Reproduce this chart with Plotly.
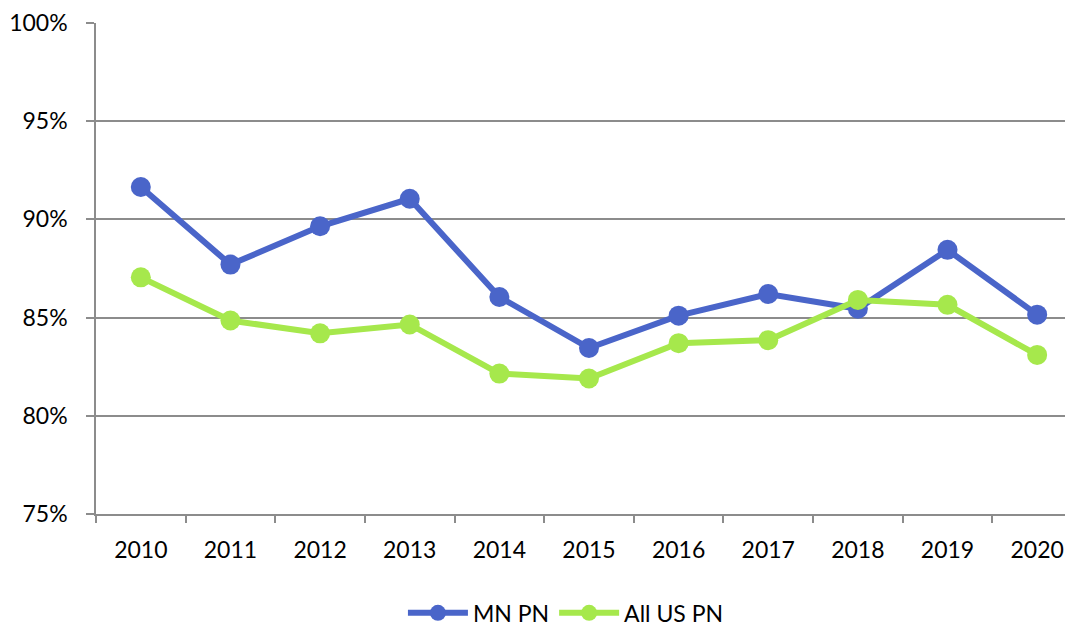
import plotly.graph_objects as go

years = ["2010", "2011", "2012", "2013", "2014", "2015", "2016", "2017", "2018", "2019", "2020"]
mn_pn = [91.65, 87.7, 89.65, 91.05, 86.05, 83.45, 85.1, 86.2, 85.45, 88.45, 85.15]
all_us_pn = [87.05, 84.85, 84.2, 84.65, 82.15, 81.9, 83.7, 83.85, 85.9, 85.65, 83.1]
y_ticks = [75, 80, 85, 90, 95, 100]
y_tick_labels = [f"{v}%" for v in y_ticks]

grid = "#8c8c8c"
fig = go.Figure()
fig.add_trace(go.Scatter(x=years, y=mn_pn, name="MN PN", mode="lines+markers",
                         line=dict(color="#4a65c9", width=6),
                         marker=dict(color="#4a65c9", size=20)))
fig.add_trace(go.Scatter(x=years, y=all_us_pn, name="All US PN", mode="lines+markers",
                         line=dict(color="#a6e84c", width=6),
                         marker=dict(color="#a6e84c", size=20)))

fig.update_layout(
    width=1065, height=621,
    margin=dict(l=88, r=0, t=15, b=115, autoexpand=False),
    paper_bgcolor="white", plot_bgcolor="white",
    font=dict(family="Lato, Open Sans, sans-serif", size=23, color="#000000"),
    showlegend=True,
    legend=dict(orientation="h", x=0.481, xanchor="center", yref="container",
                y=0.026, yanchor="middle", font=dict(size=23), itemwidth=60),
    xaxis=dict(type="category", range=[-0.5, 10.4], tickson="boundaries", automargin=False,
               ticks="outside", ticklen=7, tickcolor=grid, tickwidth=1.5,
               showline=True, linecolor=grid, linewidth=1.5,
               showgrid=False, tickfont=dict(size=23), ticklabelstandoff=15),
    yaxis=dict(range=[75, 100], tickvals=y_ticks, ticktext=y_tick_labels, automargin=False,
               showgrid=True, gridcolor=grid, gridwidth=1.5,
               ticks="outside", ticklen=8, tickcolor=grid, tickwidth=1.5,
               showline=True, linecolor=grid, linewidth=1.5,
               zeroline=False, tickfont=dict(size=23), ticklabelstandoff=14),
)
fig.write_html("out.html")
